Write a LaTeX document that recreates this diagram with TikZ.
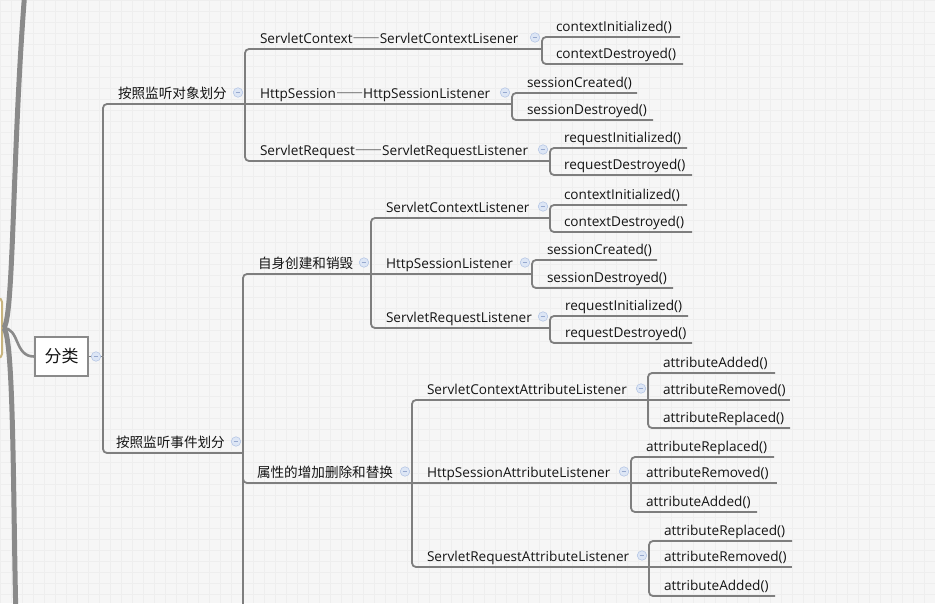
\documentclass[tikz,border=0pt]{standalone}
\usepackage{fontspec}
\setmainfont{Open Sans}
\newfontfamily\cjk{Noto Sans CJK SC}
\newfontfamily\cjkdash[CharacterWidth=Full]{Noto Sans CJK SC}
\usepackage{tikz}

\definecolor{linegray}{HTML}{7E7E7E}
\definecolor{trunkgray}{HTML}{8A8A8A}
\definecolor{bggray}{HTML}{F6F6F6}
\definecolor{gridgray}{HTML}{EEEEEE}
\definecolor{foldfill}{HTML}{DDE6F5}
\definecolor{folddraw}{HTML}{B6C7E6}
\definecolor{foldmark}{HTML}{97A9CF}
\definecolor{roottan}{HTML}{C8B47E}
\definecolor{textdark}{HTML}{141414}

\begin{document}
\begin{tikzpicture}[x=1pt,y=-1pt,
    branch/.style={draw=linegray,line width=1.8pt,rounded corners=4pt},
    trunk/.style={draw=trunkgray,line width=5pt},
    topic/.style={anchor=south west,inner xsep=0pt,inner ysep=0pt,outer sep=0pt,text depth=6pt,
        align=left,text=textdark,font=\fontsize{13.6}{16}\selectfont},
    fold/.style={circle,draw=folddraw,fill=foldfill,line width=0.6pt,minimum size=9.5pt,inner sep=0pt,
        path picture={\draw[foldmark,line width=0.8pt] ([xshift=2.3pt]path picture bounding box.west)
        -- ([xshift=-2.3pt]path picture bounding box.east);}},
    rootbox/.style={draw=trunkgray,fill=white,line width=2pt,minimum width=53pt,minimum height=39pt,
        font=\cjk\fontsize{17}{20}\selectfont,text=textdark}]
  \useasboundingbox (0,0) rectangle (935,603);
  \clip (0,0) rectangle (935,603);
  \fill[bggray] (0,0) rectangle (935,603);
  \draw[gridgray,line width=0.6pt,step=11pt] (0pt,-603pt) grid (935pt,0pt);

  \node[draw=roottan,fill=white,line width=2pt,rounded corners=4pt,minimum width=70pt,minimum height=60pt] (R) at (-33,328) {};
  \node[rootbox] (F) at (61.5,356.5) {分类};
  \draw[trunk] (R.east) .. controls (14,328) and (12,150) .. (25,-10);
  \draw[trunk] (R.east) .. controls (14,328) and (13,500) .. (16,620);
  \draw[draw=trunkgray,line width=2.6pt] (R.east) .. controls (20,328) and (14,356.5) .. (F.west);

  \node[topic,text width=127pt] (A) at (118,104) {\cjk 按照监听对象划分};
  \node[topic,text width=127pt] (B) at (116,453) {\cjk 按照监听事件划分};

  \node[topic,text width=282pt] (A1) at (260,49) {ServletContext{\cjkdash ——}ServletContextLisener};
  \node[topic,text width=252pt] (A2) at (260,104) {HttpSession{\cjkdash ——}HttpSessionListener};
  \node[topic,text width=290pt] (A3) at (260,161) {ServletRequest{\cjkdash ——}ServletRequestListener};
  \node[topic,text width=124pt] (A1a) at (556,37) {contextInitialized()};
  \node[topic,text width=127pt] (A1b) at (556,64) {contextDestroyed()};
  \node[topic,text width=110pt] (A2a) at (527,93) {sessionCreated()};
  \node[topic,text width=126pt] (A2b) at (527,120) {sessionDestroyed()};
  \node[topic,text width=123pt] (A3a) at (564,148) {requestInitialized()};
  \node[topic,text width=128pt] (A3b) at (564,175) {requestDestroyed()};

  \node[topic,text width=113pt] (B1) at (258,274) {\cjk 自身创建和销毁};
  \node[topic,text width=155pt] (B2) at (257,483) {\cjk 属性的增加删除和替换};
  \coordinate (B3) at (243,640);

  \node[topic,text width=164pt] (B1a) at (386,218) {ServletContextListener};
  \node[topic,text width=146pt] (B1b) at (386,274) {HttpSessionListener};
  \node[topic,text width=164pt] (B1c) at (386,328) {ServletRequestListener};
  \node[topic,text width=123pt] (B1a1) at (564,205) {contextInitialized()};
  \node[topic,text width=128pt] (B1a2) at (564,232) {contextDestroyed()};
  \node[topic,text width=110pt] (B1b1) at (547,260) {sessionCreated()};
  \node[topic,text width=126pt] (B1b2) at (547,288) {sessionDestroyed()};
  \node[topic,text width=123pt] (B1c1) at (565,316) {requestInitialized()};
  \node[topic,text width=127pt] (B1c2) at (565,343) {requestDestroyed()};

  \node[topic,text width=221pt] (B2a) at (427,400) {ServletContextAttributeListener};
  \node[topic,text width=204pt] (B2b) at (427,483) {HttpSessionAttributeListener};
  \node[topic,text width=222pt] (B2c) at (427,567) {ServletRequestAttributeListener};
  \node[topic,text width=112pt] (B2a1) at (663,373) {attributeAdded()};
  \node[topic,text width=127pt] (B2a2) at (663,400) {attributeRemoved()};
  \node[topic,text width=127pt] (B2a3) at (663,428) {attributeReplaced()};
  \node[topic,text width=128pt] (B2b1) at (646,457) {attributeReplaced()};
  \node[topic,text width=131pt] (B2b2) at (646,483) {attributeRemoved()};
  \node[topic,text width=111pt] (B2b3) at (646,512) {attributeAdded()};
  \node[topic,text width=128pt] (B2c1) at (664,541) {attributeReplaced()};
  \node[topic,text width=128pt] (B2c2) at (664,567) {attributeRemoved()};
  \node[topic,text width=111pt] (B2c3) at (664,596) {attributeAdded()};

  \coordinate (Fv) at (103,356.5);
  \draw[branch] (F.east) -- (Fv);
  \draw[branch] (Fv) |- (A.south west) -- (A.south east);
  \draw[branch] (Fv) |- (B.south west) -- (B.south east);

  \draw[branch] (A.south east) |- (A1.south west) -- (A1.south east);
  \draw[branch] (A.south east) -- (A2.south west) -- (A2.south east);
  \draw[branch] (A.south east) |- (A3.south west) -- (A3.south east);
  \draw[branch] (A1.south east) |- (A1a.south west) -- (A1a.south east);
  \draw[branch] (A1.south east) |- (A1b.south west) -- (A1b.south east);
  \draw[branch] (A2.south east) |- (A2a.south west) -- (A2a.south east);
  \draw[branch] (A2.south east) |- (A2b.south west) -- (A2b.south east);
  \draw[branch] (A3.south east) |- (A3a.south west) -- (A3a.south east);
  \draw[branch] (A3.south east) |- (A3b.south west) -- (A3b.south east);

  \draw[branch] (B.south east) |- (B1.south west) -- (B1.south east);
  \draw[branch] (B.south east) |- (B2.south west) -- (B2.south east);
  \draw[branch] (B.south east) -- (B3);

  \draw[branch] (B1.south east) |- (B1a.south west) -- (B1a.south east);
  \draw[branch] (B1.south east) -- (B1b.south west) -- (B1b.south east);
  \draw[branch] (B1.south east) |- (B1c.south west) -- (B1c.south east);
  \draw[branch] (B1a.south east) |- (B1a1.south west) -- (B1a1.south east);
  \draw[branch] (B1a.south east) |- (B1a2.south west) -- (B1a2.south east);
  \draw[branch] (B1b.south east) |- (B1b1.south west) -- (B1b1.south east);
  \draw[branch] (B1b.south east) |- (B1b2.south west) -- (B1b2.south east);
  \draw[branch] (B1c.south east) |- (B1c1.south west) -- (B1c1.south east);
  \draw[branch] (B1c.south east) |- (B1c2.south west) -- (B1c2.south east);

  \draw[branch] (B2.south east) |- (B2a.south west) -- (B2a.south east);
  \draw[branch] (B2.south east) -- (B2b.south west) -- (B2b.south east);
  \draw[branch] (B2.south east) |- (B2c.south west) -- (B2c.south east);
  \draw[branch] (B2a.south east) |- (B2a1.south west) -- (B2a1.south east);
  \draw[branch] (B2a.south east) -- (B2a2.south west) -- (B2a2.south east);
  \draw[branch] (B2a.south east) |- (B2a3.south west) -- (B2a3.south east);
  \draw[branch] (B2b.south east) |- (B2b1.south west) -- (B2b1.south east);
  \draw[branch] (B2b.south east) -- (B2b2.south west) -- (B2b2.south east);
  \draw[branch] (B2b.south east) |- (B2b3.south west) -- (B2b3.south east);
  \draw[branch] (B2c.south east) |- (B2c1.south west) -- (B2c1.south east);
  \draw[branch] (B2c.south east) -- (B2c2.south west) -- (B2c2.south east);
  \draw[branch] (B2c.south east) |- (B2c3.south west) -- (B2c3.south east);

  \node[fold] at ([xshift=7pt]F.east) {};
  \node[fold] at ([shift={(-7,-11.5)}]A.south east) {};
  \node[fold] at ([shift={(-7,-11.5)}]B.south east) {};
  \node[fold] at ([shift={(-7,-11.5)}]A1.south east) {};
  \node[fold] at ([shift={(-7,-11.5)}]A2.south east) {};
  \node[fold] at ([shift={(-7,-11.5)}]A3.south east) {};
  \node[fold] at ([shift={(-7,-11.5)}]B1.south east) {};
  \node[fold] at ([shift={(-7,-11.5)}]B2.south east) {};
  \node[fold] at ([shift={(-7,-11.5)}]B1a.south east) {};
  \node[fold] at ([shift={(-7,-11.5)}]B1b.south east) {};
  \node[fold] at ([shift={(-7,-11.5)}]B1c.south east) {};
  \node[fold] at ([shift={(-7,-11.5)}]B2a.south east) {};
  \node[fold] at ([shift={(-7,-11.5)}]B2b.south east) {};
  \node[fold] at ([shift={(-7,-11.5)}]B2c.south east) {};
\end{tikzpicture}
\end{document}
